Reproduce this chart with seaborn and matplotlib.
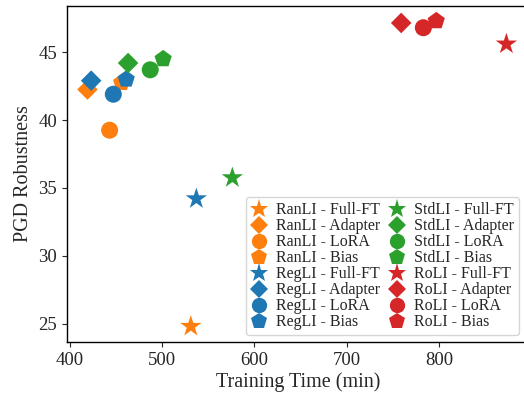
import matplotlib

matplotlib.use("Agg")
import matplotlib.pyplot as plt
import pandas as pd
import seaborn as sns
from matplotlib.lines import Line2D

# values
init_methods = ["RanLI", "RegLI", "StdLI", "RoLI"]
tuning_methods = ["Full-FT", "Adapter", "LoRA", "Bias"]

train_time = {
    "RanLI": [531, 419, 443, 456],
    "RegLI": [537, 423, 447, 461],
    "StdLI": [576, 463, 487, 501],
    "RoLI": [873, 759, 783, 797],
}
pgd_robust = {
    "RanLI": [24.8, 42.25, 39.25, 42.75],
    "RegLI": [34.2, 42.9, 41.9, 43.0],
    "StdLI": [35.75, 44.2, 43.7, 44.5],
    "RoLI": [45.6, 47.15, 46.8, 47.3],
}

init_colors = {"RanLI": "#ff7f0e", "RegLI": "#1f77b4", "StdLI": "#2ca02c", "RoLI": "#d62728"}
tuning_markers = {"Full-FT": "*", "Adapter": "D", "LoRA": "o", "Bias": "p"}
tuning_sizes = {"Full-FT": 260, "Adapter": 110, "LoRA": 150, "Bias": 170}
legend_msize = {"Full-FT": 14, "Adapter": 9.5, "LoRA": 11, "Bias": 12}

rows = []
for init in init_methods:
    for k, tune in enumerate(tuning_methods):
        rows.append({
            "time": train_time[init][k],
            "pgd": pgd_robust[init][k],
            "label": f"{init} - {tune}",
            "init": init,
            "tune": tune,
        })
df = pd.DataFrame(rows)

sns.set_style("ticks")
plt.rcParams["font.family"] = ["Liberation Serif", "DejaVu Serif"]

fig = plt.figure(figsize=(5.24, 3.93), dpi=100)
ax = fig.add_axes([67 / 524, 51 / 393, 463 / 524, 336 / 393])

palette = {r["label"]: init_colors[r["init"]] for r in rows}
markers = {r["label"]: tuning_markers[r["tune"]] for r in rows}
sizes = {r["label"]: tuning_sizes[r["tune"]] for r in rows}

sns.scatterplot(data=df, x="time", y="pgd", hue="label", style="label", size="label",
                palette=palette, markers=markers, sizes=sizes,
                hue_order=df["label"], style_order=df["label"], size_order=df["label"],
                linewidth=0, ax=ax, legend=False)

ax.set_xlim(396.8, 898.6)
ax.set_ylim(23.65, 48.4)
ax.set_xticks([400, 500, 600, 700, 800])
ax.set_yticks([25, 30, 35, 40, 45])
ax.tick_params(labelsize=13.5, length=3.5, width=0.8)
ax.set_xlabel("Training Time (min)", fontsize=14.5, labelpad=2.5)
ax.set_ylabel("PGD Robustness", fontsize=14.5, labelpad=4)
for sp in ax.spines.values():
    sp.set_linewidth(1.0)
    sp.set_color("black")

handles = [Line2D([], [], linestyle="none", marker=tuning_markers[r["tune"]],
                  markersize=legend_msize[r["tune"]], color=init_colors[r["init"]],
                  markeredgewidth=0) for r in rows]
labels = [r["label"] for r in rows]
ax.legend(handles, labels, ncol=2, loc="lower right", bbox_to_anchor=(0.976, 0.021),
          borderaxespad=0, fontsize=11.5, handletextpad=0.6, columnspacing=0.5,
          labelspacing=0.0, handlelength=1.0, borderpad=0.3, frameon=True)

fig.savefig("out.png", dpi=100)
